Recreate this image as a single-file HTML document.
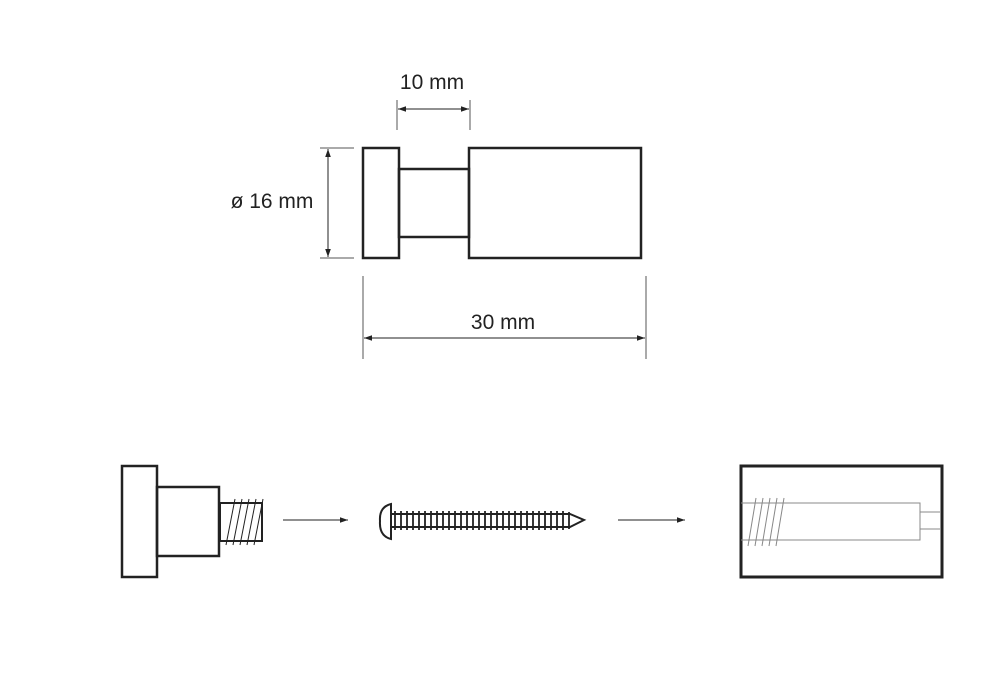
<!DOCTYPE html>
<html><head><meta charset="utf-8"><style>
html,body{margin:0;padding:0;background:#fff;}
svg{display:block;}
text{font-family:"Liberation Sans",sans-serif;fill:#222;}
</style></head><body>
<svg width="1000" height="695" viewBox="0 0 1000 695" xmlns="http://www.w3.org/2000/svg">
<defs>
<marker id="a" viewBox="0 0 10 10" refX="10" refY="5" markerWidth="8" markerHeight="8" orient="auto-start-reverse" markerUnits="userSpaceOnUse"><path d="M0,1.5 L10,5 L0,8.5 Z" fill="#222"/></marker>
</defs>
<g fill="none" stroke="#222" stroke-width="2.5">
<rect x="363" y="148" width="36" height="110"/>
<rect x="399" y="169" width="70" height="68"/>
<rect x="469" y="148" width="172" height="110"/>
</g>
<g stroke="#555" stroke-width="1">
<line x1="397" y1="100" x2="397" y2="130"/>
<line x1="470" y1="100" x2="470" y2="130"/>
<line x1="320" y1="148" x2="354" y2="148"/>
<line x1="320" y1="258" x2="354" y2="258"/>
<line x1="363" y1="276" x2="363" y2="359"/>
<line x1="646" y1="276" x2="646" y2="359"/>
</g>
<g stroke="#222" stroke-width="1" marker-start="url(#a)" marker-end="url(#a)">
<line x1="398" y1="109" x2="469" y2="109"/>
<line x1="328" y1="149" x2="328" y2="257"/>
<line x1="364" y1="338" x2="645" y2="338"/>
</g>
<text x="432" y="89" font-size="21" text-anchor="middle">10 mm</text>
<text x="272" y="208" font-size="21" text-anchor="middle">ø 16 mm</text>
<text x="503" y="329" font-size="21" text-anchor="middle">30 mm</text>
<g fill="none" stroke="#222" stroke-width="2.5">
<rect x="122" y="466" width="35" height="111"/>
<rect x="157" y="487" width="62" height="69"/>
<rect x="220" y="503" width="42" height="38" stroke-width="2"/>
</g>
<g stroke="#222" stroke-width="1">
<line x1="235" y1="499" x2="226" y2="545"/>
<line x1="242" y1="499" x2="233" y2="545"/>
<line x1="249" y1="499" x2="240" y2="545"/>
<line x1="256" y1="499" x2="247" y2="545"/>
<line x1="263" y1="499" x2="254" y2="545"/>
</g>
<line x1="283" y1="520" x2="348" y2="520" stroke="#222" stroke-width="1" marker-end="url(#a)"/>
<line x1="618" y1="520" x2="685" y2="520" stroke="#222" stroke-width="1" marker-end="url(#a)"/>
<g fill="none" stroke="#222" stroke-width="2">
<path d="M391,504 Q379,507 380,521 Q379,536 391,539 Z" fill="#fff"/>
<path d="M391,514 H570 L584,520 L570,527 H391"/>
<path stroke-width="1.8" d="M395,511V530M401,511V530M407,511V530M413,511V530M419,511V530M425,511V530M431,511V530M437,511V530M443,511V530M449,511V530M455,511V530M461,511V530M467,511V530M473,511V530M479,511V530M485,511V530M491,511V530M497,511V530M503,511V530M509,511V530M515,511V530M521,511V530M527,511V530M533,511V530M539,511V530M545,511V530M551,511V530M557,511V530M563,511V530M569,512V529"/>
</g>
<rect x="741" y="466" width="201" height="111" fill="none" stroke="#222" stroke-width="3"/>
<g fill="none" stroke="#888" stroke-width="1">
<path d="M741,503 H920 V540 H741"/>
<path d="M920,512 H940 M920,529 H940"/>
<line x1="756" y1="498" x2="748" y2="546"/>
<line x1="763" y1="498" x2="755" y2="546"/>
<line x1="770" y1="498" x2="762" y2="546"/>
<line x1="777" y1="498" x2="769" y2="546"/>
<line x1="784" y1="498" x2="776" y2="546"/>
</g>
</svg>
</body></html>
